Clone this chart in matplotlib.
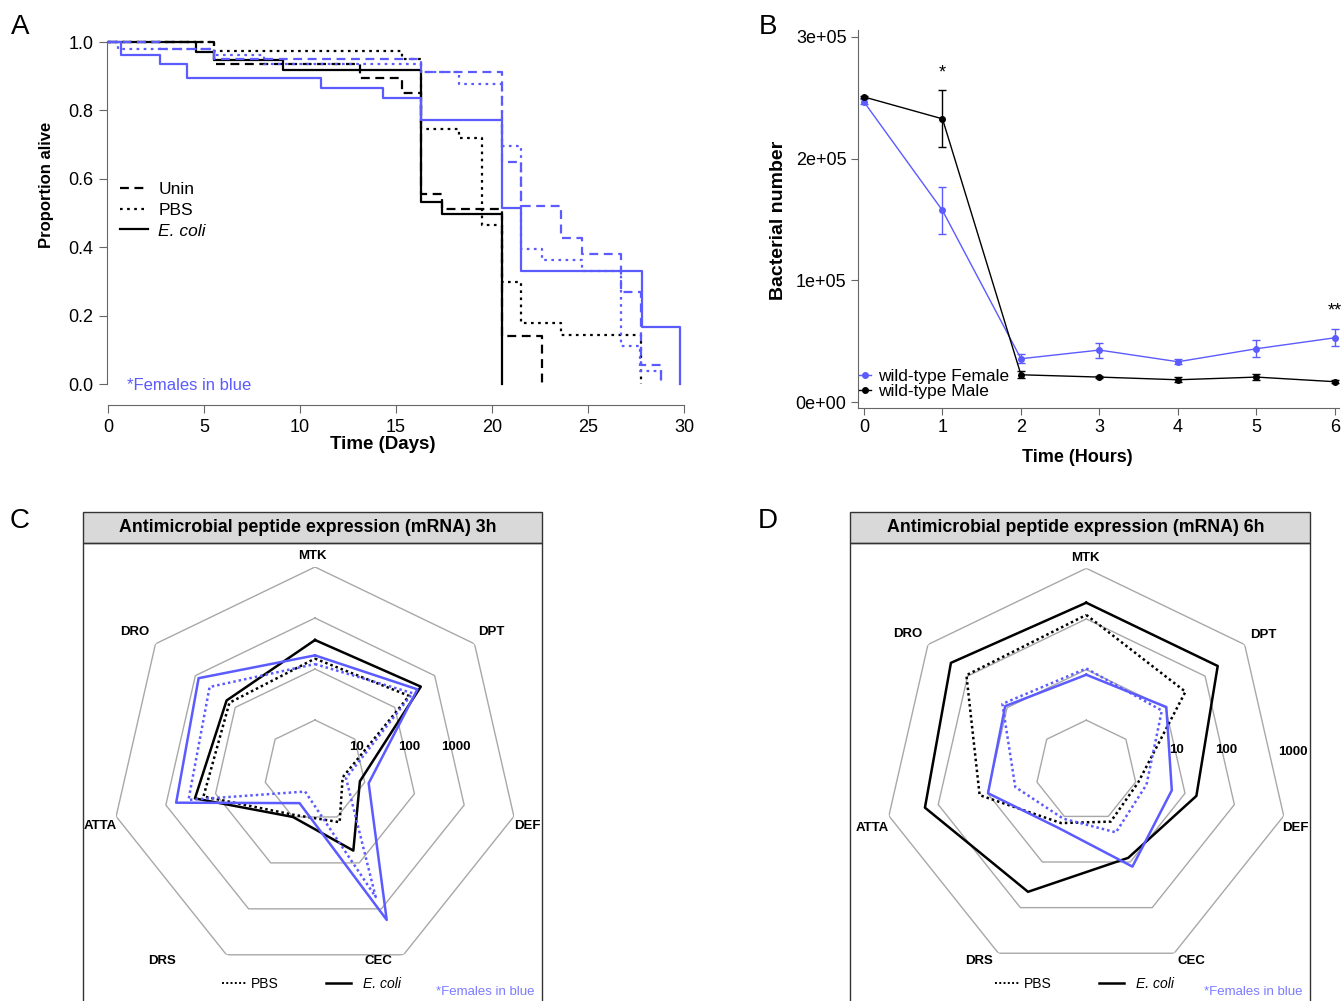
import numpy as np
import matplotlib.pyplot as plt
from matplotlib.lines import Line2D
from matplotlib.patches import Rectangle

plt.rcParams['font.family'] = ['Liberation Sans', 'DejaVu Sans']

W, H = 1344, 1001
BLUE = '#5b5bff'
SOFT_BLUE = '#7b7bff'
RING = '#a8a8a8'
AXIS = '#666666'

# %% panel A - survival, step points (day, proportion alive)
ecoli_m_t = [0, 4.6, 5.5, 9.1, 16.3, 17.4, 20.5]
ecoli_m_s = [1, 0.972, 0.947, 0.917, 0.533, 0.497, 0]
unin_m_t = [0, 5.5, 13.1, 15.3, 16.3, 17.4, 20.5, 22.6]
unin_m_s = [1, 0.937, 0.896, 0.852, 0.555, 0.512, 0.140, 0]
pbs_m_t = [0, 5.5, 15.3, 16.3, 18.3, 19.5, 20.5, 21.5, 23.6, 27.75]
pbs_m_s = [1, 0.974, 0.949, 0.747, 0.718, 0.465, 0.299, 0.179, 0.143, 0]
ecoli_f_t = [0, 0.7, 2.7, 4.1, 11.1, 14.3, 16.3, 20.5, 21.5, 27.8, 29.8]
ecoli_f_s = [1, 0.962, 0.937, 0.894, 0.866, 0.835, 0.772, 0.514, 0.331, 0.167, 0]
unin_f_t = [0, 2.7, 5.5, 16.3, 20.5, 21.5, 23.6, 24.7, 26.7, 27.75, 28.8]
unin_f_s = [1, 0.981, 0.949, 0.911, 0.65, 0.52, 0.426, 0.38, 0.27, 0.056, 0]
pbs_f_t = [0, 0.5, 5.5, 8.1, 16.3, 18.3, 20.5, 21.5, 22.6, 24.7, 26.7, 27.7, 28.8]
pbs_f_s = [1, 0.981, 0.962, 0.937, 0.911, 0.878, 0.697, 0.394, 0.363, 0.331, 0.112, 0.037, 0]

# %% panel B - bacterial load
hours = [0, 1, 2, 3, 4, 5, 6]
female_load = [246600, 157400, 35600, 42700, 33100, 43800, 52800]
female_err = [2000, 19000, 3700, 6200, 2000, 7000, 7000]
male_load = [250700, 232700, 22400, 20500, 18300, 20500, 16700]
male_err = [1000, 23500, 3000, 800, 2000, 2500, 1000]

# %% panels C, D - AMP fold expression
amps = ['MTK', 'DPT', 'DEF', 'CEC', 'DRS', 'ATTA', 'DRO']
h3_ecoli_m = [370, 450, 8, 54, 10, 260, 165]
h3_ecoli_f = [185, 370, 12, 1740, 5, 620, 830]
h3_pbs_m = [160, 230, 3.6, 13, 9, 175, 140]
h3_pbs_f = [125, 280, 4.2, 550, 2.8, 350, 440]
h6_ecoli_m = [209, 209, 17, 8.1, 45, 186, 263]
h6_ecoli_f = [7.9, 10.5, 5.4, 12.6, 1.8, 9.8, 11.2]
h6_pbs_m = [120, 32, 1.12, 1.3, 1.4, 14.5, 107]
h6_pbs_f = [10.5, 8.1, 1.66, 2.24, 1.12, 2.75, 13.2]

fig = plt.figure(figsize=(W / 100, H / 100), dpi=100)


def px_axes(left, top, right, bottom, **kw):
    return fig.add_axes([left / W, 1 - bottom / H, (right - left) / W, (bottom - top) / H], **kw)


def fig_text(x, y, s, **kw):
    kw.setdefault('ha', 'center')
    kw.setdefault('va', 'center')
    return fig.text(x / W, 1 - y / H, s, **kw)


def fig_line(x0, x1, y, **kw):
    fig.add_artist(Line2D([x0 / W, x1 / W], [1 - y / H] * 2, transform=fig.transFigure, **kw))


dash = (0, (4, 2.5))
dot = (0, (1.2, 2))

# %% A
ax = px_axes(107.04, 35.2, 693.6, 404.9)
ax.step(unin_m_t, unin_m_s, where='post', color='k', ls=dash, lw=1.6)
ax.step(pbs_m_t, pbs_m_s, where='post', color='k', ls=dot, lw=1.6)
ax.step(ecoli_m_t, ecoli_m_s, where='post', color='k', lw=1.6)
ax.step(unin_f_t, unin_f_s, where='post', color=BLUE, ls=dash, lw=1.6)
ax.step(pbs_f_t, pbs_f_s, where='post', color=BLUE, ls=dot, lw=1.6)
ax.step(ecoli_f_t, ecoli_f_s, where='post', color=BLUE, lw=1.6)
ax.set_xlim(-0.05, 30.5)
ax.set_ylim(-0.061, 1.02)
for s in ['top', 'right']:
    ax.spines[s].set_visible(False)
for s in ['left', 'bottom']:
    ax.spines[s].set_color(AXIS)
ax.spines['left'].set_bounds(0, 1)
ax.spines['bottom'].set_bounds(0, 30)
ax.set_xticks(range(0, 31, 5))
ax.set_yticks([0, 0.2, 0.4, 0.6, 0.8, 1.0])
ax.set_yticklabels(['0.0', '0.2', '0.4', '0.6', '0.8', '1.0'])
ax.tick_params(labelsize=13, length=6, color=AXIS, pad=4)
handles = [Line2D([], [], color='k', ls=dash, lw=1.6),
           Line2D([], [], color='k', ls=dot, lw=1.6),
           Line2D([], [], color='k', lw=1.6)]
leg = ax.legend(handles, ['Unin', 'PBS', 'E. coli'], loc='upper left',
                bbox_to_anchor=(120 / W, 1 - 182 / H), bbox_transform=fig.transFigure,
                frameon=False, borderpad=0, borderaxespad=0, handlelength=1.6,
                handletextpad=0.6, labelspacing=0.32, fontsize=12.5)
leg.get_texts()[2].set_style('italic')
fig_text(127, 386, '*Females in blue', color=BLUE, size=12, ha='left')
fig_text(383, 444, 'Time (Days)', weight='bold', size=13.5)
fig_text(47, 185, 'Proportion alive', weight='bold', size=12, rotation=90)
fig_text(20, 27, 'A', size=20)

# %% B
bx = px_axes(857.7, 30, 1338.9, 408)
bx.errorbar(hours, female_load, yerr=female_err, color=BLUE, marker='o', ms=4,
            lw=1, capsize=3, elinewidth=1, capthick=1)
bx.errorbar(hours, male_load, yerr=male_err, color='k', marker='o', ms=4,
            lw=1, capsize=3, elinewidth=1, capthick=1)
bx.set_xlim(-0.08, 6.05)
bx.set_ylim(-4900, 305700)
for s in ['top', 'right']:
    bx.spines[s].set_visible(False)
for s in ['left', 'bottom']:
    bx.spines[s].set_color(AXIS)
bx.set_xticks(hours)
bx.set_yticks([0, 100000, 200000, 300000])
bx.set_yticklabels(['0e+00', '1e+05', '2e+05', '3e+05'])
bx.tick_params(labelsize=13, length=5, color=AXIS, pad=3)
bx.text(1, 270000, '*', ha='center', va='center', fontsize=13)
bx.text(6, 75000, '**', ha='center', va='center', fontsize=13, clip_on=False)
bhandles = [Line2D([], [], color=BLUE, marker='o', ms=4, lw=1),
            Line2D([], [], color='k', marker='o', ms=4, lw=1)]
bx.legend(bhandles, ['wild-type Female', 'wild-type Male'], loc='lower left',
          bbox_to_anchor=(859 / W, 1 - 399 / H), bbox_transform=fig.transFigure,
          frameon=False, borderpad=0, borderaxespad=0, handlelength=0.7,
          handletextpad=0.4, labelspacing=-0.02, fontsize=12.5)
fig_text(1077, 458, 'Time (Hours)', weight='bold', size=13)
fig_text(778, 220, 'Bacterial number', weight='bold', size=14, rotation=90)
fig_text(768, 27, 'B', size=20)

# %% C and D radars
theta = np.linspace(0, 2 * np.pi, len(amps), endpoint=False)


def closed(vals):
    return np.append(vals, vals[0])


def radar(box, center, radius, base, title, series, ring_labels, label_px,
          legend_px, title_x):
    x0, x1 = box
    fig.add_artist(Rectangle((x0 / W, 1 - 543 / H), (x1 - x0) / W, 31 / H,
                             transform=fig.transFigure, facecolor='#d9d9d9',
                             edgecolor='#333333', lw=1))
    fig.add_artist(Rectangle((x0 / W, -0.02), (x1 - x0) / W, 1 - 543 / H + 0.02,
                             transform=fig.transFigure, fill=False,
                             edgecolor='#333333', lw=1))
    fig_text(title_x, 527, title, weight='bold', size=12.8)

    cx, cy = center
    rx = px_axes(cx - radius, cy - radius, cx + radius, cy + radius, projection='polar')
    rx.set_theta_zero_location('N')
    rx.set_theta_direction(-1)
    for k in range(1, 5):
        rx.plot(closed(theta), [k] * (len(amps) + 1), color=RING, lw=1)
    for vals, color, ls in series:
        r = np.log10(np.array(vals)) - np.log10(base)
        rx.plot(closed(theta), closed(r), color=color, ls=ls, lw=1.8)
    rx.set_ylim(0, 4)
    rx.axis('off')

    for (x, y), s in zip(label_px, amps):
        fig_text(x, y, s, weight='bold', size=9.5)
    for (x, y), s in ring_labels:
        fig_text(x, y, s, weight='bold', size=9.5)

    lx = legend_px
    fig_line(lx, lx + 24, 983, color='k', ls=(0, (1, 1.2)), lw=1.4)
    fig_text(lx + 29, 984, 'PBS', size=10, ha='left')
    fig_line(lx + 104, lx + 129, 983, color='k', lw=1.8)
    fig_text(lx + 141, 984, 'E. coli', size=10, ha='left', style='italic')
    fig_text(x1 - 7, 992, '*Females in blue', size=9.5, color=SOFT_BLUE, ha='right')


dotted = (0, (1, 1.2))
radar((83, 542), (315, 771), 204, 1,
      'Antimicrobial peptide expression (mRNA) 3h',
      [(h3_pbs_m, 'k', dotted), (h3_ecoli_m, 'k', '-'),
       (h3_pbs_f, BLUE, dotted), (h3_ecoli_f, BLUE, '-')],
      [((357, 747), '10'), ((409, 747), '100'), ((456, 747), '1000')],
      [(312, 556), (491, 632), (527, 826), (378, 961), (162, 961), (100, 826), (135, 632)],
      222, 308)
radar((850, 1310), (1086.3, 770.8), 202.5, 0.1,
      'Antimicrobial peptide expression (mRNA) 6h',
      [(h6_pbs_m, 'k', dotted), (h6_ecoli_m, 'k', '-'),
       (h6_pbs_f, BLUE, dotted), (h6_ecoli_f, BLUE, '-')],
      [((1176, 750), '10'), ((1226, 750), '100'), ((1293, 752), '1000')],
      [(1085, 558), (1263, 635), (1295, 828), (1191, 961), (979, 961), (872, 828), (908, 634)],
      995, 1076)
fig_text(20, 521, 'C', size=20)
fig_text(768, 521, 'D', size=20)

fig.savefig('out.png', dpi=100)
